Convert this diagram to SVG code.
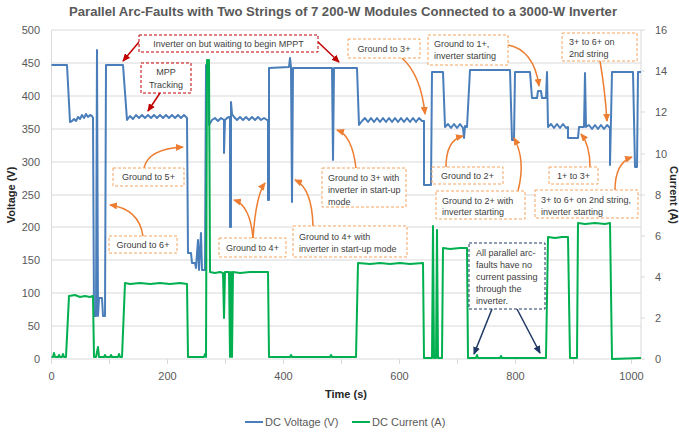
<svg xmlns="http://www.w3.org/2000/svg" width="679" height="434" viewBox="0 0 679 434">
<style>
text{font-family:"Liberation Sans",Arial,sans-serif;fill:#595959}
.tick{font-size:11px}
.ax{font-size:11px;font-weight:bold;fill:#262626}
.grid{stroke:#d9d9d9;stroke-width:1}
.ann{font-size:9px;fill:#404040}
.ob{fill:#fff;stroke:#f4a460;stroke-width:1;stroke-dasharray:3,2}
.rb{fill:#fff;stroke:#c00000;stroke-width:1;stroke-dasharray:3,2}
.nb{fill:#fff;stroke:#1f3864;stroke-width:1;stroke-dasharray:3,2}
.oa{fill:none;stroke:#ed7d31;stroke-width:1.5;marker-end:url(#mo)}
.ra{fill:none;stroke:#c00000;stroke-width:1.5;marker-end:url(#mr)}
.na{fill:none;stroke:#1f3864;stroke-width:1.5;marker-end:url(#mn)}
.v{fill:none;stroke:#4a7ebb;stroke-width:2;stroke-linejoin:round}
.c{fill:none;stroke:#00b050;stroke-width:2;stroke-linejoin:round}
</style>
<defs>
<marker id="mo" markerUnits="userSpaceOnUse" markerWidth="8" markerHeight="7" refX="7" refY="3.5" orient="auto"><path d="M0,0 L8,3.5 L0,7 z" fill="#ed7d31"/></marker>
<marker id="mr" markerUnits="userSpaceOnUse" markerWidth="8" markerHeight="7" refX="7" refY="3.5" orient="auto"><path d="M0,0 L8,3.5 L0,7 z" fill="#c00000"/></marker>
<marker id="mn" markerUnits="userSpaceOnUse" markerWidth="8" markerHeight="7" refX="7" refY="3.5" orient="auto"><path d="M0,0 L8,3.5 L0,7 z" fill="#1f3864"/></marker>
</defs>
<rect width="679" height="434" fill="#fff"/>
<text x="343" y="16" text-anchor="middle" font-size="13" font-weight="bold" fill="#404040" textLength="548" lengthAdjust="spacingAndGlyphs">Parallel Arc-Faults with Two Strings of 7 200-W Modules Connected to a 3000-W Inverter</text>
<g id="grid">
<line class="grid" x1="51.5" y1="30" x2="641" y2="30"/>
<line class="grid" x1="51.5" y1="63" x2="641" y2="63"/>
<line class="grid" x1="51.5" y1="96" x2="641" y2="96"/>
<line class="grid" x1="51.5" y1="129" x2="641" y2="129"/>
<line class="grid" x1="51.5" y1="162" x2="641" y2="162"/>
<line class="grid" x1="51.5" y1="195" x2="641" y2="195"/>
<line class="grid" x1="51.5" y1="227" x2="641" y2="227"/>
<line class="grid" x1="51.5" y1="260" x2="641" y2="260"/>
<line class="grid" x1="51.5" y1="293" x2="641" y2="293"/>
<line class="grid" x1="51.5" y1="326" x2="641" y2="326"/>
<line class="grid" x1="51.5" y1="359" x2="641" y2="359"/>
<line class="grid" x1="51.5" y1="30" x2="51.5" y2="359"/>
<line class="grid" x1="641" y1="30" x2="641" y2="359"/>
<path class="grid" d="M51.5,359v5M109.5,359v5M167.5,359v5M225.5,359v5M283.5,359v5M341.5,359v5M399.5,359v5M457.5,359v5M515.5,359v5M573.5,359v5M631.5,359v5M641,30h4M641,71h4M641,112h4M641,154h4M641,195h4M641,236h4M641,277h4M641,318h4M641,359h4"/>
</g>
<g id="axes">
<text class="tick" x="40" y="34" text-anchor="end">500</text>
<text class="tick" x="40" y="67" text-anchor="end">450</text>
<text class="tick" x="40" y="100" text-anchor="end">400</text>
<text class="tick" x="40" y="133" text-anchor="end">350</text>
<text class="tick" x="40" y="166" text-anchor="end">300</text>
<text class="tick" x="40" y="199" text-anchor="end">250</text>
<text class="tick" x="40" y="231" text-anchor="end">200</text>
<text class="tick" x="40" y="264" text-anchor="end">150</text>
<text class="tick" x="40" y="297" text-anchor="end">100</text>
<text class="tick" x="40" y="330" text-anchor="end">50</text>
<text class="tick" x="40" y="363" text-anchor="end">0</text>
<text class="tick" x="655" y="34">16</text>
<text class="tick" x="655" y="75">14</text>
<text class="tick" x="655" y="116">12</text>
<text class="tick" x="655" y="158">10</text>
<text class="tick" x="655" y="199">8</text>
<text class="tick" x="655" y="240">6</text>
<text class="tick" x="655" y="281">4</text>
<text class="tick" x="655" y="322">2</text>
<text class="tick" x="655" y="363">0</text>
<text class="tick" x="51.5" y="380" text-anchor="middle">0</text>
<text class="tick" x="167.5" y="380" text-anchor="middle">200</text>
<text class="tick" x="283.5" y="380" text-anchor="middle">400</text>
<text class="tick" x="399.5" y="380" text-anchor="middle">600</text>
<text class="tick" x="515.5" y="380" text-anchor="middle">800</text>
<text class="tick" x="631.5" y="380" text-anchor="middle">1000</text>
<text class="ax" x="346" y="398" text-anchor="middle">Time (s)</text>
<text class="ax" transform="translate(15,195) rotate(-90)" text-anchor="middle">Voltage (V)</text>
<text class="ax" transform="translate(670,195) rotate(90)" text-anchor="middle">Current (A)</text>
</g>
<g id="series">
<path class="v" d="M51.5,65 L67,65 L70,122 L72,121 L74,119 L76,121 L78,117 L80,119 L82,115 L84,118 L86,114 L88,117 L90,115 L92,116 L93,118 L94,316 L96,316 L97,50 L98,316 L99,298 L102,298 L103,316 L105,316 L106,65 L123,65 L127,120 L130,116 L133,119 L136,115 L139,118 L142,115 L145,118 L148,115 L151,118 L154,115 L157,118 L160,115 L163,118 L166,115 L169,118 L172,115 L175,118 L178,115 L181,118 L184,115 L187,118 L188,253 L191,253 L192,263 L195,263 L196,268 L198,240 L199,270 L201,233 L202,270 L205,270 L206,65 L208,65 L209,125 L212,120 L215,118 L218,121 L221,118 L224,120 L224,153 L225,120 L227,118 L229,117 L230,117 L230,227 L231,227 L231,102 L232,114 L234,117 L237,120 L240,117 L243,120 L246,117 L249,120 L252,117 L255,120 L258,117 L261,120 L264,118 L267,120 L268,120 L268,200 L269,200 L269,68 L289,67 L290,58 L291,67 L292,202 L293,68 L332,68 L333,160 L334,68 L357,68 L359,125 L362,121 L365,118 L368,122 L371,118 L374,122 L377,118 L380,122 L383,118 L386,122 L389,118 L392,122 L395,118 L398,122 L401,118 L404,122 L407,118 L410,122 L413,118 L416,122 L419,118 L422,121 L424,121 L424,185 L431,185 L432,72 L443,72 L445,127 L448,124 L451,128 L454,124 L457,128 L460,124 L463,128 L464,138 L465,126 L467,127 L470,70 L510,70 L512,140 L514,140 L515,72 L530,72 L532,98 L537,98 L538,91 L541,91 L542,98 L546,98 L547,72 L548,127 L551,124 L554,128 L557,124 L560,128 L563,124 L566,128 L568,127 L568,138 L578,138 L579,127 L584,127 L585,73 L586,127 L589,125 L592,129 L595,125 L598,129 L601,125 L604,129 L607,125 L610,128 L610,165 L612,72 L633,72 L635,167 L637,167 L638,72 L641,72"/>
<path class="c" d="M51.5,357 L53,357 L54,353 L55,357 L58,357 L59,355 L60,357 L62,357 L63,354 L64,357 L66,357 L69,296 L75,295 L80,297 L85,296 L90,297 L93,296 L94,357 L96,357 L98,347 L99,357 L104,357 L105,355 L106,357 L110,357 L111,355 L112,357 L118,357 L119,354 L120,357 L122,357 L125,283 L130,284 L140,283 L150,284 L160,283 L170,284 L180,283 L187,284 L188,357 L204,357 L205,354 L206,357 L207,60 L209,60 L210,272 L215,273 L220,272 L223,273 L224,318 L225,272 L229,272 L230,357 L231,272 L232,357 L233,272 L240,273 L250,272 L260,272 L268,272 L269,357 L290,357 L291,355 L292,357 L330,357 L331,355 L332,357 L356,357 L358,263 L370,264 L380,263 L390,264 L400,263 L410,264 L423,263 L424,358 L432,358 L433,226 L434,358 L436,358 L437,230 L438,358 L442,358 L443,248 L450,249 L460,248 L467,248 L468,358 L476,358 L477,355 L478,358 L500,358 L501,356 L502,358 L546,358 L548,237 L555,238 L562,237 L568,237 L570,358 L577,358 L578,223 L585,224 L595,223 L605,224 L610,223 L612,359 L641,358"/>
</g>
<g id="connectors">
<path class="ra" d="M139,42 L123,61"/>
<path class="ra" d="M318,42 L339,62"/>
<path class="ra" d="M160,93 L148,111"/>
<path class="oa" d="M144,168 Q148,149 183,147"/>
<path class="oa" d="M143,236 Q139,209 110,205"/>
<path class="oa" d="M253,238 Q250,205 234,200"/>
<path class="oa" d="M253,238 Q256,195 265,183"/>
<path class="oa" d="M313,226 Q312,188 295,180"/>
<path class="oa" d="M356,168 Q352,135 337,130"/>
<path class="oa" d="M402,58 Q421,75 425,114"/>
<path class="oa" d="M508,45 Q534,50 539,86"/>
<path class="oa" d="M600,61 Q605,90 607,121"/>
<path class="oa" d="M446,167 Q446,140 463,136"/>
<path class="oa" d="M518,191 Q526,160 514,138"/>
<path class="oa" d="M590,167 Q590,145 581,134"/>
<path class="oa" d="M615,190 Q615,163 632,157"/>
<path class="na" d="M492,309 L474,354"/>
<path class="na" d="M517,309 L540,353"/>
</g>
<g id="n-mppt-wait"><rect class="rb" x="139" y="35" width="179" height="17"/><text class="ann" x="228.5" y="47" text-anchor="middle">Inverter on but waiting to begin MPPT</text></g>
<g id="n-mpp"><rect class="rb" x="141" y="63" width="50" height="30"/><text class="ann" x="166" y="75" text-anchor="middle">MPP</text><text class="ann" x="166" y="88" text-anchor="middle">Tracking</text></g>
<g id="n-g3"><rect class="ob" x="348" y="39" width="72" height="19"/><text class="ann" x="384" y="52" text-anchor="middle">Ground to 3+</text></g>
<g id="n-g1"><rect class="ob" x="428" y="35" width="80" height="30"/><text class="ann" x="434" y="47">Ground to 1+,</text><text class="ann" x="434" y="59">inverter starting</text></g>
<g id="n-36"><rect class="ob" x="562" y="33" width="75" height="28"/><text class="ann" x="569" y="45">3+ to 6+ on</text><text class="ann" x="569" y="57">2nd string</text></g>
<g id="n-g5"><rect class="ob" x="113" y="168" width="71" height="18"/><text class="ann" x="148.5" y="180" text-anchor="middle">Ground to 5+</text></g>
<g id="n-g6"><rect class="ob" x="109" y="236" width="68" height="17"/><text class="ann" x="143" y="248" text-anchor="middle">Ground to 6+</text></g>
<g id="n-g4"><rect class="ob" x="219" y="238" width="67" height="19"/><text class="ann" x="252.5" y="251" text-anchor="middle">Ground to 4+</text></g>
<g id="n-g4s"><rect class="ob" x="293" y="226" width="114" height="31"/><text class="ann" x="299" y="240">Ground to 4+ with</text><text class="ann" x="299" y="252">inverter in start-up mode</text></g>
<g id="n-g3s"><rect class="ob" x="322" y="168" width="84" height="39"/><text class="ann" x="328" y="181">Ground to 3+ with</text><text class="ann" x="328" y="193">inverter in start-up</text><text class="ann" x="328" y="205">mode</text></g>
<g id="n-g2"><rect class="ob" x="432" y="167" width="71" height="17"/><text class="ann" x="467.5" y="179" text-anchor="middle">Ground to 2+</text></g>
<g id="n-g2s"><rect class="ob" x="436" y="191" width="89" height="28"/><text class="ann" x="442" y="204">Ground to 2+ with</text><text class="ann" x="442" y="215">inverter starting</text></g>
<g id="n-13"><rect class="ob" x="549" y="167" width="49" height="17"/><text class="ann" x="573.5" y="179" text-anchor="middle">1+ to 3+</text></g>
<g id="n-36s"><rect class="ob" x="535" y="190" width="103" height="28"/><text class="ann" x="541" y="203">3+ to 6+ on 2nd string,</text><text class="ann" x="541" y="215">inverter starting</text></g>
<g id="n-all"><rect class="nb" x="469" y="243" width="76" height="66"/><text class="ann" x="476" y="256">All parallel arc-</text><text class="ann" x="476" y="268">faults have no</text><text class="ann" x="476" y="280">current passing</text><text class="ann" x="476" y="292">through the</text><text class="ann" x="476" y="304">inverter.</text></g>
<g id="legend">
<line x1="245" y1="422" x2="263" y2="422" stroke="#4a7ebb" stroke-width="2"/>
<text class="tick" x="265" y="426">DC Voltage (V)</text>
<line x1="352" y1="422" x2="370" y2="422" stroke="#00b050" stroke-width="2"/>
<text class="tick" x="372" y="426">DC Current (A)</text>
</g>
</svg>
